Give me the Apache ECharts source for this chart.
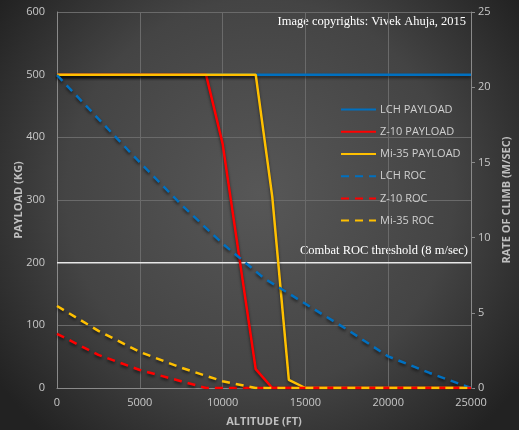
<!DOCTYPE html>
<html><head><meta charset="utf-8">
<script src="https://cdn.jsdelivr.net/npm/echarts@6/dist/echarts.min.js"></script>
<style>html,body{margin:0;padding:0;background:#333;}#c{width:519px;height:430px;}</style>
</head><body><div id="c"></div>
<script>
// ---- data ----
const xTicks = [0, 5000, 10000, 15000, 20000, 25000];
const altLchPayload = [0, 25000];
const lchPayload = [500, 500];
const altZ10Payload = [0, 9000, 10000, 12000, 13000, 25000];
const z10Payload = [500, 500, 390, 30, 0, 0];
const altMi35Payload = [0, 12000, 13000, 14000, 15000, 25000];
const mi35Payload = [500, 500, 305, 13, 0, 0];
const altLchRoc = [0, 2500, 5000, 7500, 10000, 12500, 15000, 17500, 20000, 22500, 25000];
const lchRoc = [20.8, 17.9, 15.0, 12.2, 9.6, 7.3, 5.6, 3.9, 2.1, 1.0, 0];
const altZ10Roc = [0, 2500, 5000, 7500, 9000, 25000];
const z10Roc = [3.6, 2.2, 1.2, 0.45, 0, 0];
const altMi35Roc = [0, 2500, 5000, 7500, 10000, 12000, 25000];
const mi35Roc = [5.45, 3.8, 2.4, 1.35, 0.45, 0, 0];
const altThreshold = [0, 25000];
const threshold = [200, 200];
const seriesNames = ['LCH PAYLOAD', 'Z-10 PAYLOAD', 'Mi-35 PAYLOAD', 'LCH ROC', 'Z-10 ROC', 'Mi-35 ROC'];
const colors = ['#0070C0', '#FF0000', '#FFC000'];

const pairs = (xs, ys) => xs.map((x, i) => [x, ys[i]]);
const shadow = {shadowColor: 'rgba(0,0,0,0.55)', shadowBlur: 3, shadowOffsetY: 2};
function mk(name, xs, ys, color, dashed, yIdx) {
  return {
    name, type: 'line', yAxisIndex: yIdx, data: pairs(xs, ys),
    symbol: 'none', animation: false, z: dashed ? 3 : 2,
    lineStyle: Object.assign({color, width: 2.5, type: dashed ? [8, 6] : 'solid'}, shadow),
    itemStyle: {color}
  };
}
const labelFont = {color: '#c8c8c8', fontSize: 11, fontFamily: 'Open Sans, Liberation Sans, sans-serif'};
const chart = echarts.init(document.getElementById('c'));
chart.setOption({
  animation: false,
  backgroundColor: {
    type: 'radial', x: 0.5, y: 0.45, r: 0.75,
    colorStops: [{offset: 0, color: '#575757'}, {offset: 0.6, color: '#444'}, {offset: 1, color: '#222'}]
  },
  grid: {left: 57, right: 48, top: 12, bottom: 42, containLabel: false, outerBoundsMode: 'none'},
  legend: {
    orient: 'vertical', left: 335, top: 99, itemWidth: 35, itemHeight: 14, itemGap: 11,
    itemStyle: {opacity: 0},
    data: seriesNames, textStyle: {color: '#d0d0d0', fontSize: 11, fontFamily: 'Open Sans, Liberation Sans, sans-serif', padding: [0, 0, 0, -1]}
  },
  graphic: [
    {type: 'text', right: 53, top: 15, style: {text: 'Image copyrights: Vivek Ahuja, 2015', fill: '#fff', font: '12.5px "Liberation Serif", serif'}},
    {type: 'text', right: 51, top: 244, style: {text: 'Combat ROC threshold (8 m/sec)', fill: '#fff', font: '12.5px "Liberation Serif", serif'}}
  ],
  xAxis: {
    type: 'value', min: xTicks[0], max: xTicks[xTicks.length - 1], interval: 5000,
    name: 'ALTITUDE (FT)', nameLocation: 'middle', nameGap: 28, nameMoveOverlap: false,
    nameTextStyle: Object.assign({}, labelFont, {fontWeight: 'bold', color: '#bfbfbf'}),
    axisLine: {show: true, lineStyle: {color: '#8a8a8a', width: 1}},
    axisTick: {show: false},
    axisLabel: Object.assign({margin: 9, formatter: v => String(v)}, labelFont),
    splitLine: {show: true, lineStyle: {color: '#6a6a6a', width: 1}}
  },
  yAxis: [
    {type: 'value', min: 0, max: 600, interval: 100, position: 'left',
     name: 'PAYLOAD (KG)', nameLocation: 'middle', nameGap: 33, nameRotate: 90, nameMoveOverlap: false,
     nameTextStyle: Object.assign({}, labelFont, {fontWeight: 'bold', color: '#bfbfbf'}),
     axisLine: {show: true, lineStyle: {color: '#8a8a8a', width: 1}},
     axisTick: {show: false},
     axisLabel: Object.assign({margin: 12}, labelFont),
     splitLine: {show: true, lineStyle: {color: '#6a6a6a', width: 1}}},
    {type: 'value', min: 0, max: 25, interval: 5, position: 'right',
     name: 'RATE OF CLIMB (M/SEC)', nameLocation: 'middle', nameGap: 28, nameRotate: 90,
     nameTextStyle: Object.assign({}, labelFont, {fontWeight: 'bold', color: '#bfbfbf'}),
     axisLine: {show: true, lineStyle: {color: '#8a8a8a', width: 1}},
     axisTick: {show: true, length: 4, lineStyle: {color: '#8a8a8a'}},
     axisLabel: Object.assign({margin: 7}, labelFont),
     splitLine: {show: false}}
  ],
  series: [
    {name: 'threshold', type: 'line', data: pairs(altThreshold, threshold), symbol: 'none', z: 1,
     lineStyle: {color: '#e8e8e8', width: 1.5}, silent: true},
    mk(seriesNames[0], altLchPayload, lchPayload, colors[0], false, 0),
    mk(seriesNames[1], altZ10Payload, z10Payload, colors[1], false, 0),
    mk(seriesNames[2], altMi35Payload, mi35Payload, colors[2], false, 0),
    mk(seriesNames[3], altLchRoc, lchRoc, colors[0], true, 1),
    mk(seriesNames[4], altZ10Roc, z10Roc, colors[1], true, 1),
    mk(seriesNames[5], altMi35Roc, mi35Roc, colors[2], true, 1)
  ]
});
</script></body></html>
